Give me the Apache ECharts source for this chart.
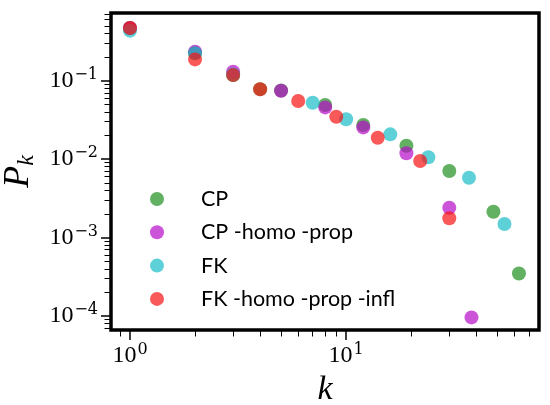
<!DOCTYPE html>
<html><head><meta charset="utf-8">
<script src="https://cdn.jsdelivr.net/npm/echarts@6/dist/echarts.min.js"></script>
<style>html,body{margin:0;padding:0;background:#fff}#c{width:550px;height:405px}</style>
</head><body><div id="c"></div>
<script>
const seriesNames = ['CP', 'CP -homo -prop', 'FK', 'FK -homo -prop -infl'];
const kCP   = [1, 2, 3, 4, 5, 8, 12, 19, 30, 48, 63];
const pCP   = [0.47, 0.225, 0.118, 0.078, 0.075, 0.049, 0.0272, 0.0148, 0.00705, 0.00213, 0.000349];
const kCPh  = [1, 2, 3, 5, 8, 12, 19, 30, 38];
const pCPh  = [0.47, 0.234, 0.130, 0.0745, 0.0457, 0.0254, 0.0119, 0.0024, 0.000096];
const kFK   = [1, 2, 3, 7, 10, 16, 24, 37, 54];
const pFK   = [0.435, 0.224, 0.12, 0.0524, 0.0322, 0.0207, 0.01055, 0.0058, 0.00149];
const kFKh  = [1, 2, 3, 4, 6, 9, 14, 22, 30];
const pFKh  = [0.47, 0.187, 0.118, 0.0777, 0.055, 0.0347, 0.01875, 0.00946, 0.00176];
const xMajorTicks = [1, 10];
const xMinorTicks = [0.9, 2, 3, 4, 5, 6, 7, 8, 9, 20, 30, 40, 50, 60, 70];
const yMajorTicks = [1e-4, 1e-3, 1e-2, 1e-1];
const yMinorTicks = [7e-5, 8e-5, 9e-5, 2e-4, 3e-4, 4e-4, 5e-4, 6e-4, 7e-4, 8e-4, 9e-4,
  2e-3, 3e-3, 4e-3, 5e-3, 6e-3, 7e-3, 8e-3, 9e-3, 2e-2, 3e-2, 4e-2, 5e-2, 6e-2, 7e-2, 8e-2, 9e-2,
  0.2, 0.3, 0.4, 0.5, 0.6, 0.7];
const colors = ['#1f8e1f', '#b60cc7', '#19bcc7', '#f81313'];
const X_MIN = 0.817, X_MAX = 78, Y_MIN = 6.63e-5, Y_MAX = 0.73;

function zip(a, b) { return a.map((v, i) => [v, b[i]]); }
function sci(v) {
  const e = Math.round(Math.log10(v));
  return '{b|10}{s|' + (e < 0 ? '\u2212' + (-e) : e) + '}';
}
const rich = {
  b: { fontFamily: 'Liberation Serif', fontSize: 24, lineHeight: 28, color: '#000' },
  s: { fontFamily: 'DejaVu Serif', fontSize: 16, lineHeight: 14, verticalAlign: 'top', color: '#000', padding: [0, 0, 0, 1] }
};
const dataSets = [zip(kCP, pCP), zip(kCPh, pCPh), zip(kFK, pFK), zip(kFKh, pFKh)];

const chart = echarts.init(document.getElementById('c'), null, { renderer: 'canvas' });
chart.setOption({
  animation: false,
  grid: { left: 111, right: 11, top: 13, bottom: 75, outerBoundsMode: 'none', containLabel: false,
    show: true, borderColor: '#000', borderWidth: 3.5, backgroundColor: 'transparent' },
  legend: {
    orient: 'vertical', left: 150, top: 187, padding: 0, itemWidth: 14, itemHeight: 14, itemGap: 9.3,
    icon: 'circle',
    textStyle: { fontFamily: 'Lato', fontSize: 21.5, color: '#000', lineHeight: 24, padding: [0, 0, 0, 32] },
    data: seriesNames
  },
  xAxis: [{
    type: 'log', logBase: 10, min: X_MIN, max: X_MAX, position: 'bottom',
    axisLine: { show: false }, splitLine: { show: false },
    axisTick: { show: true, length: 10, lineStyle: { color: '#000', width: 1.5 }, customValues: xMajorTicks },
    axisLabel: { customValues: xMajorTicks, formatter: sci, rich: rich, margin: 12 },
    name: 'k', nameLocation: 'middle', nameGap: 42,
    nameTextStyle: { fontFamily: 'Liberation Serif', fontStyle: 'italic', fontSize: 34, color: '#000' }
  }, {
    type: 'log', logBase: 10, min: X_MIN, max: X_MAX, position: 'bottom',
    axisLine: { show: false }, splitLine: { show: false }, axisLabel: { show: false },
    axisTick: { show: true, length: 6.5, lineStyle: { color: '#000', width: 1 }, customValues: xMinorTicks }
  }],
  yAxis: [{
    type: 'log', logBase: 10, min: Y_MIN, max: Y_MAX, position: 'left',
    axisLine: { show: false }, splitLine: { show: false },
    axisTick: { show: true, length: 10, lineStyle: { color: '#000', width: 1.5 }, customValues: yMajorTicks },
    axisLabel: { customValues: yMajorTicks, formatter: sci, rich: rich, margin: 13 },
    name: '{p|P}{k|k}', nameLocation: 'middle', nameGap: 69,
    nameTextStyle: { rich: {
      p: { fontFamily: 'Liberation Serif', fontStyle: 'italic', fontSize: 36, lineHeight: 40, color: '#000' },
      k: { fontFamily: 'Liberation Serif', fontStyle: 'italic', fontSize: 24, lineHeight: 24, verticalAlign: 'bottom', color: '#000' }
    } }
  }, {
    type: 'log', logBase: 10, min: Y_MIN, max: Y_MAX, position: 'left',
    axisLine: { show: false }, splitLine: { show: false }, axisLabel: { show: false },
    axisTick: { show: true, length: 6.5, lineStyle: { color: '#000', width: 1 }, customValues: yMinorTicks }
  }],
  series: seriesNames.map((n, i) => ({
    name: n, type: 'scatter', xAxisIndex: 0, yAxisIndex: 0,
    symbol: 'circle', symbolSize: 14,
    itemStyle: { color: colors[i], opacity: 0.7 },
    data: dataSets[i]
  }))
});
</script></body></html>
